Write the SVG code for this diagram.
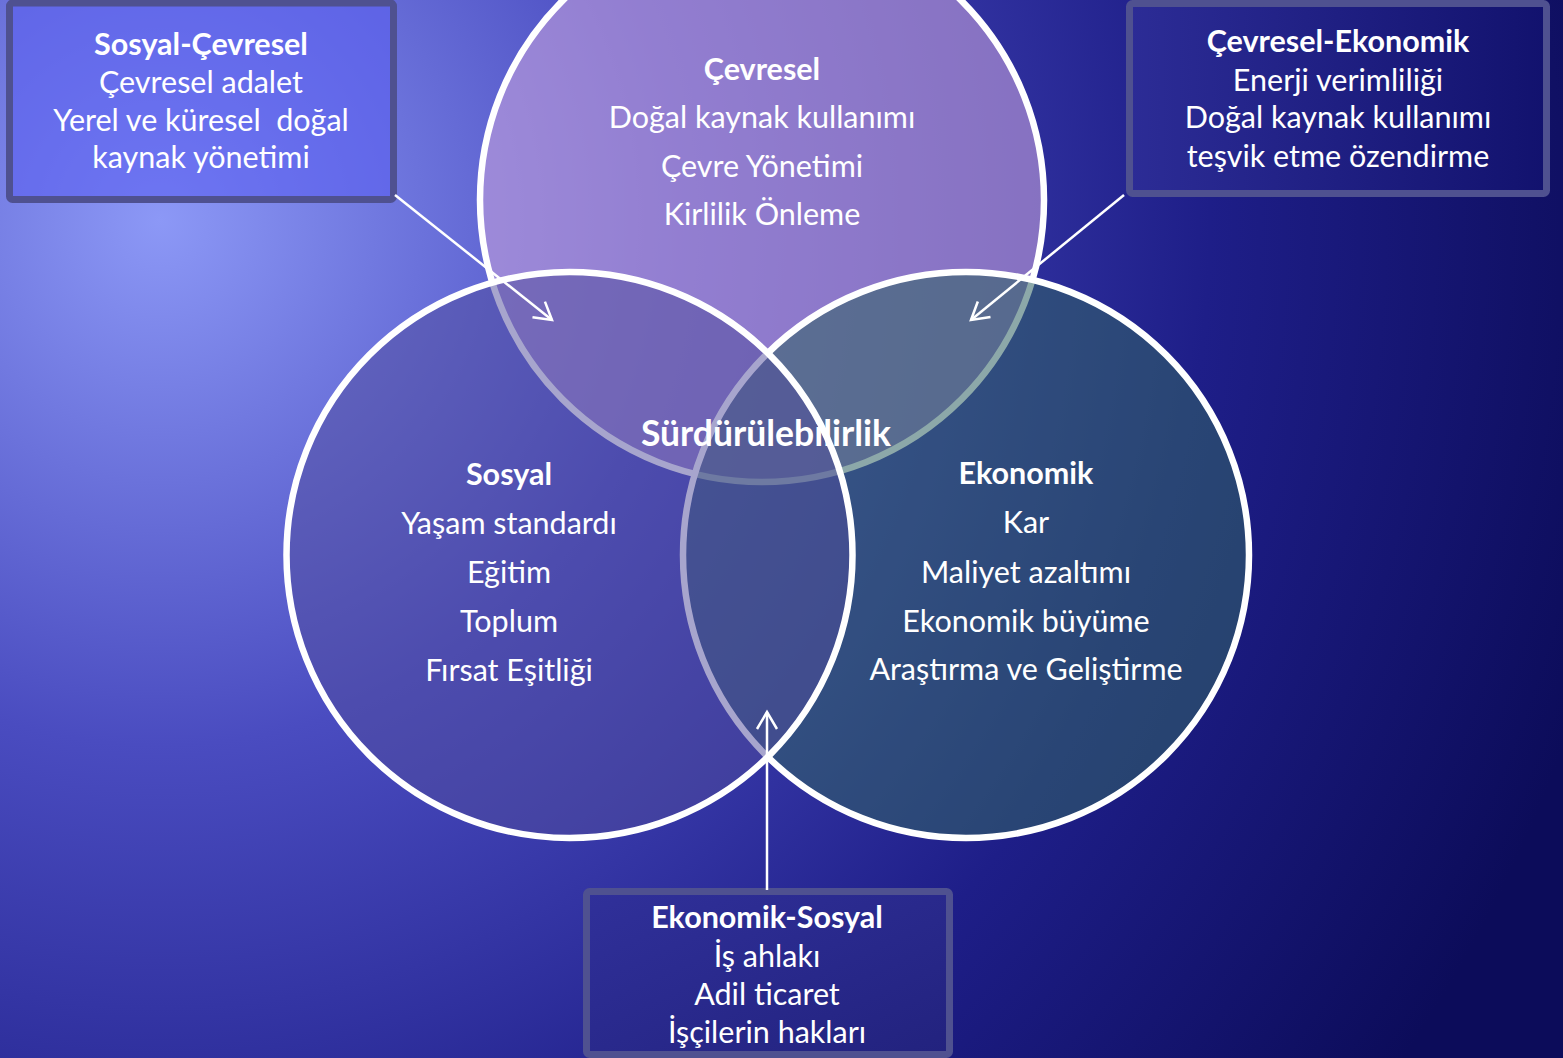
<svg xmlns="http://www.w3.org/2000/svg" width="1563" height="1058" viewBox="0 0 1563 1058">
<style>
  text { font-family: Lato, "Open Sans", "Liberation Sans", sans-serif; fill: #ffffff; text-anchor: middle; font-size: 30.5px; white-space: pre; }
  .h { font-weight: bold; }
  .big { font-weight: bold; font-size: 35.5px; }
  .ring { stroke: #ffffff; stroke-width: 6.5; }
  .box { stroke: #4f5190; stroke-width: 7; }
  .conn { stroke: #ffffff; stroke-width: 2.5; fill: none; }
</style>
<defs>
  <radialGradient id="bg" gradientUnits="userSpaceOnUse" cx="160" cy="220" r="1500">
    <stop offset="0" stop-color="#8c98f6"/>
    <stop offset="0.35" stop-color="#4a4cc0"/>
    <stop offset="0.7" stop-color="#1e1e88"/>
    <stop offset="1" stop-color="#0c0c5a"/>
  </radialGradient>
  <linearGradient id="box2" x1="0" y1="0" x2="1" y2="0">
    <stop offset="0" stop-color="#2c2c96"/>
    <stop offset="1" stop-color="#12126e"/>
  </linearGradient>
  <linearGradient id="box3" x1="0" y1="0" x2="1" y2="1">
    <stop offset="0" stop-color="#30309a"/>
    <stop offset="1" stop-color="#22227e"/>
  </linearGradient>
  <marker id="arr" markerUnits="userSpaceOnUse" viewBox="0 0 22 24" refX="19" refY="12" markerWidth="22" markerHeight="24" orient="auto">
    <path d="M2,2 L19,12 L2,22" fill="none" stroke="#ffffff" stroke-width="2.5"/>
  </marker>
</defs>
<rect x="0" y="0" width="1563" height="1058" fill="url(#bg)"/>

<g id="circle-cevresel">
  <circle class="ring" cx="762" cy="200" r="282" fill="rgb(195,160,220)" fill-opacity="0.6"/>
</g>
<g id="circle-ekonomik">
  <circle class="ring" cx="966" cy="555" r="283" fill="rgb(50,99,101)" fill-opacity="0.56"/>
</g>
<g id="circle-sosyal">
  <circle class="ring" cx="569.5" cy="555" r="283" fill="rgb(79,75,156)" fill-opacity="0.5"/>
</g>

<g id="label-cevresel">
  <text class="h" x="762" y="80">Çevresel</text>
  <text x="762" y="128">Doğal kaynak kullanımı</text>
  <text x="762" y="177">Çevre Yönetimi</text>
  <text x="762" y="225">Kirlilik Önleme</text>
</g>
<g id="label-sosyal">
  <text class="h" x="509" y="485">Sosyal</text>
  <text x="509" y="534">Yaşam standardı</text>
  <text x="509" y="583">Eğitim</text>
  <text x="509" y="632">Toplum</text>
  <text x="509" y="681">Fırsat Eşitliği</text>
</g>
<g id="label-ekonomik">
  <text class="h" x="1026" y="484">Ekonomik</text>
  <text x="1026" y="533">Kar</text>
  <text x="1026" y="583">Maliyet azaltımı</text>
  <text x="1026" y="632">Ekonomik büyüme</text>
  <text x="1026" y="680">Araştırma ve Geliştirme</text>
</g>
<g id="center-label">
  <text class="big" x="766" y="446">Sürdürülebilirlik</text>
</g>

<g id="box-sosyal-cevresel">
  <rect class="box" x="9.5" y="3" width="384" height="196.5" rx="3" fill="rgb(90,95,240)" fill-opacity="0.6"/>
  <text class="h" x="201" y="55">Sosyal-Çevresel</text>
  <text x="201" y="93">Çevresel adalet</text>
  <text x="201" y="131">Yerel ve küresel  doğal</text>
  <text x="201" y="168">kaynak yönetimi</text>
</g>
<g id="box-cevresel-ekonomik">
  <rect class="box" x="1129.5" y="3.5" width="417" height="190" rx="3" fill="url(#box2)"/>
  <text class="h" x="1338" y="52">Çevresel-Ekonomik</text>
  <text x="1338" y="91">Enerji verimliliği</text>
  <text x="1338" y="128">Doğal kaynak kullanımı</text>
  <text x="1338" y="167">teşvik etme özendirme</text>
</g>
<g id="box-ekonomik-sosyal">
  <rect class="box" x="586.5" y="891.5" width="363" height="163" rx="3" fill="url(#box3)"/>
  <text class="h" x="767" y="928">Ekonomik-Sosyal</text>
  <text x="767" y="967">İş ahlakı</text>
  <text x="767" y="1005">Adil ticaret</text>
  <text x="767" y="1043">İşçilerin hakları</text>
</g>

<g id="connectors">
  <line class="conn" x1="395" y1="195" x2="552" y2="320" marker-end="url(#arr)"/>
  <line class="conn" x1="1124" y1="195" x2="971" y2="320" marker-end="url(#arr)"/>
  <line class="conn" x1="767" y1="890" x2="767" y2="712" marker-end="url(#arr)"/>
</g>
</svg>
